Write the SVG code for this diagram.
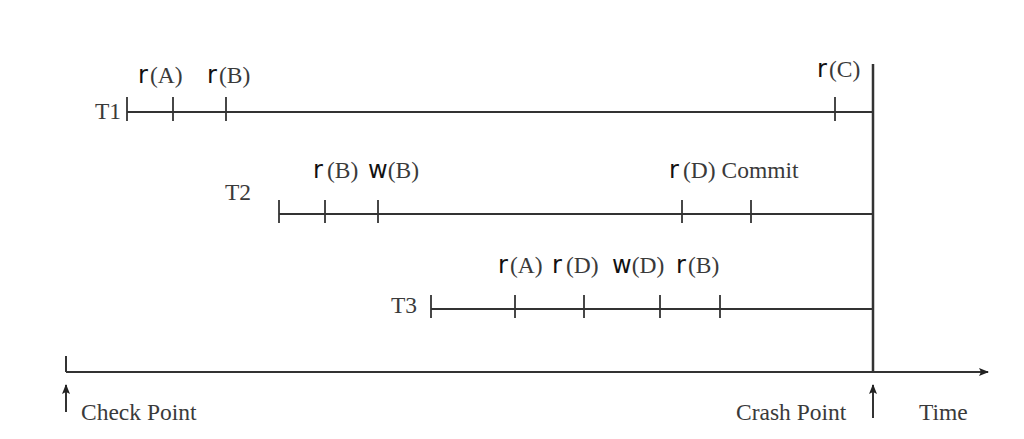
<svg xmlns="http://www.w3.org/2000/svg" width="1024" height="439" viewBox="0 0 1024 439">
<style>
.ln{stroke:#333;stroke-width:2;fill:none}
.tk{stroke:#333;stroke-width:1.8}
.sf{font-family:"Liberation Serif","Times New Roman",serif;font-size:23.5px;fill:#3a3a3a}
.ss{font-family:"DejaVu Sans","Liberation Sans",sans-serif;font-size:24px;fill:#111}
</style>
<defs>
<marker id="ah" markerWidth="10" markerHeight="8" refX="9" refY="4" orient="auto" markerUnits="userSpaceOnUse">
<path d="M0,0 L10,4 L0,8 L2,4 Z" fill="#222"/>
</marker>
</defs>
<rect width="1024" height="439" fill="#fff"/>
<g id="connectors">
<line class="ln" x1="873" y1="64" x2="873" y2="372" style="stroke-width:2.5"/>
<line class="ln" x1="66" y1="372" x2="988" y2="372" marker-end="url(#ah)"/>
<line class="ln" x1="66" y1="356" x2="66" y2="372"/>
<line class="ln" x1="66" y1="412" x2="66" y2="385" marker-end="url(#ah)"/>
<line class="ln" x1="873" y1="418" x2="873" y2="385" marker-end="url(#ah)"/>
</g>
<g id="T1">
<text class="sf" x="95" y="119">T1</text>
<line class="ln" x1="127" y1="112" x2="873" y2="112"/>
<line class="tk" x1="127" y1="97" x2="127" y2="121"/>
<line class="tk" x1="173" y1="97" x2="173" y2="121"/>
<line class="tk" x1="226" y1="97" x2="226" y2="121"/>
<line class="tk" x1="835" y1="97" x2="835" y2="121"/>
<text x="138" y="83"><tspan class="ss">r</tspan><tspan class="sf" dx="2">(A)</tspan></text>
<text x="207" y="83"><tspan class="ss">r</tspan><tspan class="sf" dx="2">(B)</tspan></text>
<text x="817" y="77"><tspan class="ss">r</tspan><tspan class="sf" dx="2">(C)</tspan></text>
</g>
<g id="T2">
<text class="sf" x="225" y="200">T2</text>
<line class="ln" x1="279" y1="214" x2="873" y2="214"/>
<line class="tk" x1="279" y1="200" x2="279" y2="223"/>
<line class="tk" x1="325" y1="200" x2="325" y2="223"/>
<line class="tk" x1="378" y1="200" x2="378" y2="223"/>
<line class="tk" x1="682" y1="200" x2="682" y2="223"/>
<line class="tk" x1="751" y1="200" x2="751" y2="223"/>
<text x="313" y="178"><tspan class="ss">r</tspan><tspan class="sf" dx="4">(B)</tspan></text>
<text x="368" y="178"><tspan class="ss">w</tspan><tspan class="sf">(B)</tspan></text>
<text x="669" y="178"><tspan class="ss">r</tspan><tspan class="sf" dx="4">(D)</tspan><tspan class="sf" dx="6">Commit</tspan></text>
</g>
<g id="T3">
<text class="sf" x="391" y="313">T3</text>
<line class="ln" x1="431" y1="309" x2="873" y2="309"/>
<line class="tk" x1="431" y1="295" x2="431" y2="318"/>
<line class="tk" x1="515" y1="295" x2="515" y2="318"/>
<line class="tk" x1="584" y1="295" x2="584" y2="318"/>
<line class="tk" x1="660" y1="295" x2="660" y2="318"/>
<line class="tk" x1="720" y1="295" x2="720" y2="318"/>
<text x="498" y="273"><tspan class="ss">r</tspan><tspan class="sf" dx="2">(A)</tspan></text>
<text x="552" y="273"><tspan class="ss">r</tspan><tspan class="sf" dx="4">(D)</tspan></text>
<text x="612" y="273"><tspan class="ss">w</tspan><tspan class="sf">(D)</tspan></text>
<text x="676" y="273"><tspan class="ss">r</tspan><tspan class="sf" dx="2">(B)</tspan></text>
</g>
<g id="labels">
<text class="sf" x="81" y="420">Check Point</text>
<text class="sf" x="736" y="420">Crash Point</text>
<text class="sf" x="919" y="420">Time</text>
</g>
</svg>
